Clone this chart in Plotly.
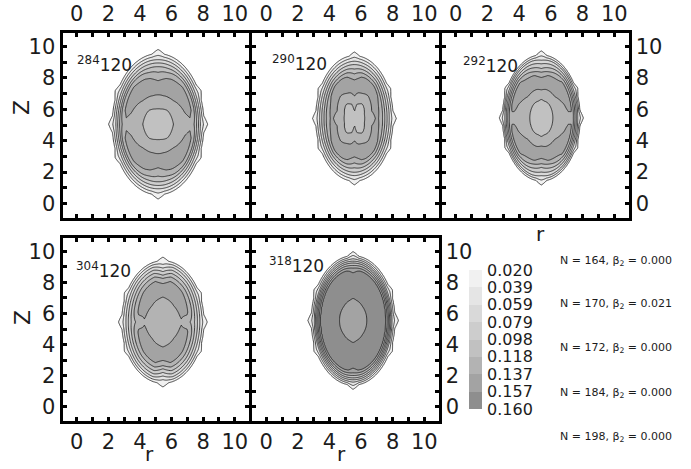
import numpy as np
import plotly.graph_objects as go

# ---------------------------------------------------------------- data
# contour levels of the nucleon density (fm^-3)
LEVELS = [0.020, 0.039, 0.059, 0.079, 0.098, 0.118, 0.137, 0.157, 0.160]

NUCLEI = ["284", "290", "292", "304", "318"]
N_VALUES = [164, 170, 172, 184, 198]
BETA2 = [0.000, 0.021, 0.000, 0.000, 0.000]

# centre of each density distribution and its half-extent (fm)
CENTER_R = [5.15, 5.58, 5.40, 5.45, 5.50]
CENTER_Z = [5.05, 5.42, 5.45, 5.45, 5.55]
SEMI_R = [2.90, 2.45, 2.45, 2.60, 2.65]
SEMI_Z = [4.50, 4.00, 4.00, 3.95, 4.15]

# density profiles: rows = polar direction (deg, 0 = equator, 90 = symmetry axis),
# columns = scaled distance from the centre
THETA_NODES = [0, 15, 45, 75, 90]
S_NODES = [0.00, 0.15, 0.30, 0.45, 0.60, 0.70, 0.78, 0.84, 0.89, 0.94, 1.00, 1.06]

RHO_284 = [
    [0.106, 0.110, 0.116, 0.124, 0.130, 0.133, 0.120, 0.098, 0.075, 0.050, 0.020, 0.0],
    [0.106, 0.110, 0.117, 0.127, 0.137, 0.142, 0.134, 0.100, 0.075, 0.050, 0.020, 0.0],
    [0.106, 0.111, 0.119, 0.136, 0.146, 0.145, 0.132, 0.100, 0.075, 0.050, 0.020, 0.0],
    [0.106, 0.112, 0.124, 0.141, 0.146, 0.134, 0.112, 0.091, 0.071, 0.049, 0.020, 0.0],
    [0.106, 0.112, 0.125, 0.141, 0.140, 0.124, 0.110, 0.090, 0.070, 0.048, 0.020, 0.0],
]
RHO_290 = [
    [0.112, 0.114, 0.119, 0.132, 0.141, 0.126, 0.100, 0.080, 0.062, 0.044, 0.020, 0.0],
    [0.112, 0.114, 0.119, 0.137, 0.144, 0.130, 0.102, 0.081, 0.063, 0.045, 0.020, 0.0],
    [0.112, 0.113, 0.117, 0.133, 0.145, 0.145, 0.115, 0.090, 0.068, 0.047, 0.020, 0.0],
    [0.112, 0.114, 0.121, 0.141, 0.148, 0.135, 0.108, 0.086, 0.066, 0.046, 0.020, 0.0],
    [0.112, 0.121, 0.133, 0.146, 0.140, 0.120, 0.100, 0.085, 0.068, 0.048, 0.020, 0.0],
]
RHO_292 = [
    [0.108, 0.111, 0.118, 0.124, 0.129, 0.133, 0.134, 0.112, 0.085, 0.058, 0.020, 0.0],
    [0.108, 0.111, 0.118, 0.126, 0.134, 0.141, 0.141, 0.115, 0.087, 0.059, 0.020, 0.0],
    [0.108, 0.111, 0.118, 0.135, 0.146, 0.146, 0.140, 0.115, 0.088, 0.060, 0.020, 0.0],
    [0.108, 0.111, 0.119, 0.136, 0.147, 0.138, 0.112, 0.094, 0.077, 0.058, 0.022, 0.0],
    [0.108, 0.112, 0.118, 0.138, 0.145, 0.128, 0.100, 0.086, 0.070, 0.052, 0.022, 0.0],
]
RHO_304 = [
    [0.125, 0.127, 0.131, 0.1365, 0.124, 0.114, 0.096, 0.079, 0.062, 0.045, 0.020, 0.0],
    [0.125, 0.127, 0.131, 0.139, 0.142, 0.125, 0.100, 0.081, 0.063, 0.046, 0.020, 0.0],
    [0.125, 0.127, 0.132, 0.143, 0.148, 0.134, 0.110, 0.090, 0.070, 0.050, 0.020, 0.0],
    [0.125, 0.127, 0.131, 0.142, 0.147, 0.136, 0.112, 0.092, 0.073, 0.052, 0.020, 0.0],
    [0.125, 0.127, 0.131, 0.140, 0.143, 0.122, 0.092, 0.073, 0.056, 0.039, 0.020, 0.0],
]
RHO_318 = [
    [0.150, 0.152, 0.156, 0.162, 0.165, 0.164, 0.158, 0.120, 0.085, 0.050, 0.020, 0.0],
    [0.150, 0.152, 0.156, 0.162, 0.165, 0.164, 0.158, 0.121, 0.086, 0.051, 0.020, 0.0],
    [0.150, 0.152, 0.1565, 0.163, 0.165, 0.164, 0.160, 0.125, 0.090, 0.055, 0.020, 0.0],
    [0.150, 0.152, 0.156, 0.163, 0.166, 0.165, 0.160, 0.130, 0.100, 0.065, 0.022, 0.0],
    [0.150, 0.152, 0.155, 0.162, 0.164, 0.161, 0.153, 0.125, 0.100, 0.066, 0.022, 0.0],
]
PROFILES = [RHO_284, RHO_290, RHO_292, RHO_304, RHO_318]

# reach of the outermost contour (scaled distance) by polar direction
EDGE_THETA = [0, 7, 20, 27, 34, 82, 90]
EDGE_REACH = [1.08, 1.00, 1.00, 1.05, 1.00, 1.00, 1.06]

AXIS_TICKS = [0, 2, 4, 6, 8, 10]

# ---------------------------------------------------------------- style
FONT = "DejaVu Sans"
INK = "#1c1c1c"
# one gray per density band: below the first level, then between levels
BAND_GRAYS = ["#ffffff", "#f1f1f1", "#e5e5e5", "#d9d9d9", "#cdcdcd",
              "#c1c1c1", "#b3b3b3", "#a3a3a3", "#8e8e8e"]
SHAPE_EXP = 2.0

W, H = 691, 469


def px_x(p):
    return p / W


def px_y(p):
    return 1 - p / H


# ---------------------------------------------------------------- density maps
grid = np.linspace(-1.0, 11.0, 201)
RR, ZZ = np.meshgrid(grid, grid)
eye = np.eye(len(THETA_NODES))


def density_map(rc, zc, a, b, table):
    u = np.abs(RR - rc) / a
    v = np.abs(ZZ - zc) / b
    s = (u ** SHAPE_EXP + v ** SHAPE_EXP) ** (1.0 / SHAPE_EXP)
    th = np.degrees(np.arctan2(v, u))
    reach = np.interp(th, EDGE_THETA, EDGE_REACH)
    s = np.where(s > 0.94, 0.94 + (s - 0.94) * 0.06 / (reach - 0.94), s)
    out = np.zeros_like(s)
    for k, row in enumerate(table):
        w = np.interp(th, THETA_NODES, eye[k])
        out += w * np.interp(s, S_NODES, row)
    return np.round(out, 5)


n_bands = len(BAND_GRAYS) - 1
fill_scale = [[k / n_bands, c] for k, c in enumerate(BAND_GRAYS)]
lev_size = (LEVELS[7] - LEVELS[0]) / 7

fig = go.Figure()

# panel placement (pixels): x-columns and rows of the plotting areas
COLS = [(62.5, 249.0), (252.0, 438.5), (441.5, 628.5), (62.5, 249.0), (252.0, 438.5)]
ROWS = [(32.5, 217.5)] * 3 + [(237.5, 420.5)] * 2

for i, nuc in enumerate(NUCLEI):
    rho = density_map(CENTER_R[i], CENTER_Z[i], SEMI_R[i], SEMI_Z[i], PROFILES[i])
    fig.add_trace(go.Contour(
        x=grid, y=grid, z=rho,
        autocontour=False,
        contours=dict(start=LEVELS[0], end=LEVELS[7], size=lev_size,
                      coloring="fill", showlines=True),
        colorscale=fill_scale,
        line=dict(color="#151515", width=0.8, smoothing=0.6),
        showscale=False, hoverinfo="skip",
        xaxis=f"x{i + 1}", yaxis=f"y{i + 1}",
    ))

# discrete gray scale key
fig.add_trace(go.Heatmap(
    x=[0], y=[k + 0.5 for k in range(8)],
    z=[[k] for k in range(8)],
    zmin=0, zmax=7,
    colorscale=[[k / 7, BAND_GRAYS[k + 1]] for k in range(8)],
    showscale=False, hoverinfo="skip",
    xaxis="x6", yaxis="y6",
))

tick_font = dict(family=FONT, size=21, color=INK)
common = dict(range=[-0.9, 10.9], tickvals=AXIS_TICKS, ticks="inside",
              ticklen=4, tickwidth=3, tickcolor="black",
              minor=dict(dtick=1, tick0=0, ticks="inside", ticklen=4,
                         tickwidth=3, tickcolor="black"),
              showline=True, linewidth=3, linecolor="black", mirror="ticks",
              showgrid=False, zeroline=False, automargin=False,
              tickfont=tick_font, fixedrange=True)

x_sides = ["top", "top", "top", "bottom", "bottom"]
y_sides = ["left", None, "right", "left", "right"]

layout = dict(
    template="none",
    width=W, height=H, margin=dict(l=0, r=0, t=0, b=0, pad=0, autoexpand=False),
    paper_bgcolor="white", plot_bgcolor="white",
    showlegend=False, font=dict(family=FONT, color=INK),
)

for i in range(5):
    xd = [px_x(COLS[i][0]), px_x(COLS[i][1])]
    yd = [px_y(ROWS[i][1]), px_y(ROWS[i][0])]
    layout[f"xaxis{i + 1}"] = dict(common, domain=xd, anchor=f"y{i + 1}",
                                   side=x_sides[i])
    ya = dict(common, domain=yd, anchor=f"x{i + 1}")
    if y_sides[i] is None:
        ya["showticklabels"] = False
    else:
        ya["side"] = y_sides[i]
    layout[f"yaxis{i + 1}"] = ya

layout["xaxis6"] = dict(domain=[px_x(469), px_x(482)], anchor="y6",
                        range=[-0.5, 0.5], visible=False, fixedrange=True,
                        automargin=False)
layout["yaxis6"] = dict(domain=[px_y(409), px_y(270)], anchor="x6",
                        range=[8, 0], side="right",
                        tickvals=list(range(9)),
                        ticktext=[f"{v:.3f}" for v in LEVELS],
                        ticks="", showline=False, showgrid=False, zeroline=False,
                        ticklabelstandoff=4, automargin=False,
                        tickfont=dict(family=FONT, size=16, color=INK),
                        fixedrange=True)

annotations = []
# nucleus labels inside the panels
LABEL_POS = [(-0.10, 8.90), (0.25, 8.95), (0.36, 8.85), (-0.20, 8.80), (0.04, 9.15)]
for i, nuc in enumerate(NUCLEI):
    lx, ly = LABEL_POS[i]
    annotations.append(dict(
        x=lx, y=ly, xref=f"x{i + 1}", yref=f"y{i + 1}",
        text=f"<sup>{nuc}</sup>120", showarrow=False,
        xanchor="left", yanchor="middle",
        font=dict(family=FONT, size=17, color=INK)))

# axis titles
for (x, y) in [(22, 107), (22, 317)]:
    annotations.append(dict(x=px_x(x), y=px_y(y), xref="paper", yref="paper",
                            text="Z", textangle=-90, showarrow=False,
                            xanchor="center", yanchor="middle",
                            font=dict(family=FONT, size=22, color=INK)))
for (x, y) in [(149, 468), (341, 468)]:
    annotations.append(dict(x=px_x(x), y=px_y(y), xref="paper", yref="paper",
                            text="r", showarrow=False,
                            xanchor="center", yanchor="bottom",
                            font=dict(family=FONT, size=20, color=INK)))
annotations.append(dict(x=px_x(540), y=px_y(234), xref="paper", yref="paper",
                        text="r", showarrow=False,
                        xanchor="center", yanchor="middle",
                        font=dict(family=FONT, size=20, color=INK)))

# neutron numbers and deformations
N_TEXT_Y = [261, 304, 348, 393, 437]
for n, b2, ty in zip(N_VALUES, BETA2, N_TEXT_Y):
    annotations.append(dict(
        x=px_x(558), y=px_y(ty), xref="paper", yref="paper",
        text=f"N = {n}, \u03b2<sub>2</sub> = {b2:.3f}", showarrow=False,
        xanchor="left", yanchor="middle",
        font=dict(family=FONT, size=11, color=INK)))

layout["annotations"] = annotations
fig.update_layout(layout)

fig.write_html("out.html")
